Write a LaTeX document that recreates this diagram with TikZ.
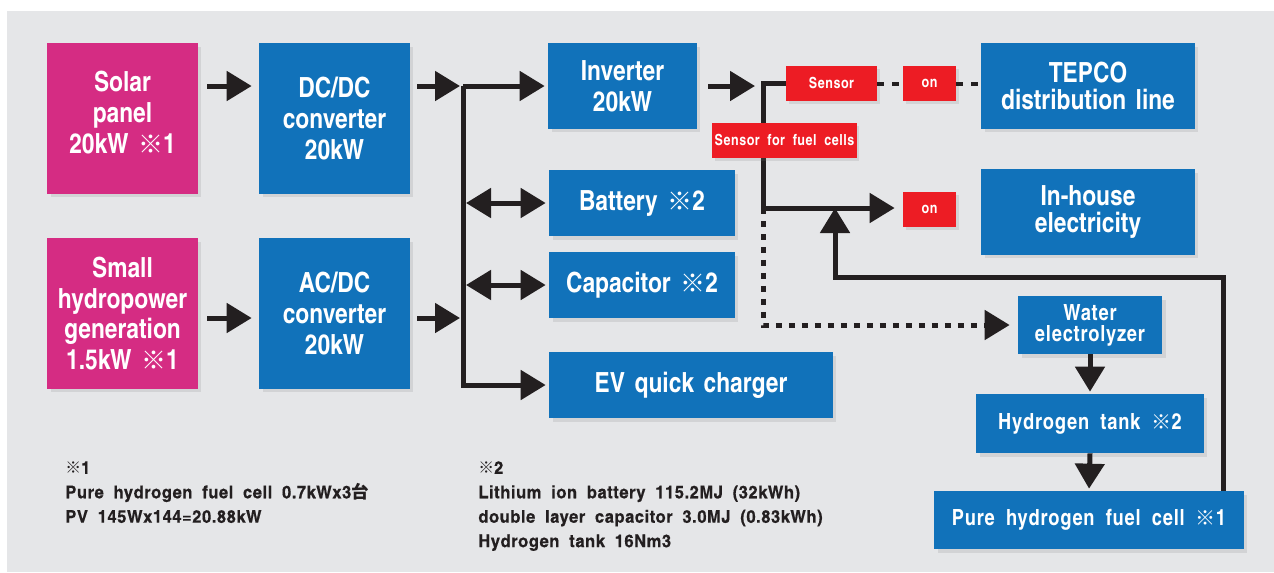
\documentclass[tikz,border=0pt]{standalone}
\usepackage{fontspec}
\setmainfont{texgyreheroscn-bold.otf}[WordSpace=1.5]
\newfontfamily\midfont{texgyreheroscn-bold.otf}[WordSpace=1.9, LetterSpace=3.5]
\newfontfamily\notefont{texgyreheroscn-bold.otf}[FakeStretch=1.15, FakeBold=0.4, WordSpace=1.9, LetterSpace=3]
\newfontfamily\cjk{Noto Sans CJK JP}
\usetikzlibrary{arrows.meta,shadows}

\definecolor{panelgray}{RGB}{229,230,232}
\definecolor{srcpink}{RGB}{213,44,131}
\definecolor{unitblue}{RGB}{17,114,186}
\definecolor{sensred}{RGB}{237,28,36}
\definecolor{wireblack}{RGB}{35,31,32}

\newcommand{\kome}{{\cjk\scalebox{0.9}{※}}}

\tikzset{
  unit/.style={fill=unitblue, text=white, align=center, inner sep=0pt,
    drop shadow={shadow xshift=0.07cm, shadow yshift=-0.07cm, opacity=0.18},
    font=\fontsize{15.8}{17.6}\selectfont},
  source/.style={unit, fill=srcpink},
  twoline/.style={unit, font=\fontsize{15.8}{15.4}\selectfont},
  smallunit/.style={unit, font=\midfont\fontsize{12.7}{12}\selectfont},
  sens/.style={fill=sensred, text=white, inner sep=0pt, minimum height=0.7cm,
    drop shadow={shadow xshift=0.05cm, shadow yshift=-0.05cm, opacity=0.18},
    font=\midfont\fontsize{8.7}{10}\selectfont},
  wire/.style={draw=wireblack, line width=0.1cm},
  flow/.style={wire, -{Triangle[length=0.5cm,width=0.58cm]}},
  twoway/.style={wire, {Triangle[length=0.5cm,width=0.58cm]}-{Triangle[length=0.5cm,width=0.58cm]}},
  dotwire/.style={flow, dash pattern=on 0.12cm off 0.14cm},
  dashwire/.style={wire, line width=0.08cm, dash pattern=on 0.14cm off 0.16cm},
  note/.style={text=wireblack, align=left, anchor=north west, inner sep=0pt,
    font=\notefont\fontsize{10}{13.9}\selectfont}
}

\begin{document}
\begin{tikzpicture}[x=0.02cm, y=-0.02cm]
\useasboundingbox (0,0) rectangle (1274,572);
\fill[panelgray] (7,11) rectangle (1274,572);

% sources and converters
\node[source, minimum width=3.02cm, minimum height=3.02cm, text depth=7pt] (solar) at (122.5,118.5) {Solar\\panel\\20kW \kome1};
\node[source, minimum width=3.02cm, minimum height=3.02cm] (hydro) at (122.5,313.5) {Small\\hydropower\\generation\\1.5kW \kome1};
\node[unit, minimum width=3.02cm, minimum height=3.02cm] (dcdc) at (334.5,118.5) {DC/DC\\converter\\20kW};
\node[unit, minimum width=3.02cm, minimum height=3.02cm] (acdc) at (334.5,313.5) {AC/DC\\converter\\20kW};

% loads on the bus
\node[unit, minimum width=2.98cm, minimum height=1.72cm] (inverter) at (622.5,86) {Inverter\\20kW};
\node[unit, minimum width=3.72cm, minimum height=1.32cm] (battery) at (642,203) {Battery \kome2};
\node[unit, minimum width=3.72cm, minimum height=1.32cm] (capacitor) at (642,285) {Capacitor \kome2};
\node[unit, minimum width=5.68cm, minimum height=1.32cm] (ev) at (691,385) {EV quick charger};

% grid side
\node[sens, minimum width=1.82cm] (sensor) at (831.5,83.5) {Sensor};
\node[sens, minimum width=1.06cm] (on1) at (929.5,83.5) {on};
\node[sens, minimum width=1.06cm] (on2) at (929.5,209.5) {on};
\node[twoline, minimum width=4.28cm, minimum height=1.72cm] (tepco) at (1088,86) {TEPCO\\distribution line};
\node[twoline, minimum width=4.28cm, minimum height=1.72cm] (inhouse) at (1088,212) {In-house\\electricity};

% hydrogen chain
\node[smallunit, minimum width=2.88cm, minimum height=1.16cm] (electrolyzer) at (1090,325) {Water\\electrolyzer};
\node[smallunit, minimum width=4.56cm, minimum height=1.18cm] (tank) at (1090,423.5) {Hydrogen tank \kome2};
\node[smallunit, minimum width=6.2cm, minimum height=1.16cm] (fuelcell) at (1089,520) {Pure hydrogen fuel cell \kome1};

\coordinate (bustop) at (463,86);
\coordinate (busmid) at (463,318);
\coordinate (tap) at (763,84);
\coordinate (tapmid) at (763,208);
\coordinate (retcorner) at (1223,277);
\coordinate (merge) at (835,208);

% bus
\draw[flow, shorten <=0.18cm, shorten >=0.14cm] (solar.east |- bustop) -- (dcdc.west |- bustop);
\draw[flow, shorten <=0.18cm, shorten >=0.14cm] (hydro.east |- busmid) -- (acdc.west |- busmid);
\draw[flow, shorten <=0.14cm, shorten >=0.06cm] (dcdc.east |- bustop) -- (bustop);
\draw[flow, shorten <=0.14cm, shorten >=0.06cm] (acdc.east |- busmid) -- (busmid);
\draw[flow, shorten >=0.06cm] (bustop) -- (inverter.west);
\draw[flow, shorten >=0.06cm] (bustop) |- (ev.west);
\draw[twoway, shorten <=0.06cm, shorten >=0.06cm] (bustop |- battery.west) -- (battery.west);
\draw[twoway, shorten <=0.06cm, shorten >=0.06cm] (bustop |- capacitor.west) -- (capacitor.west);

% sensors and switching
\draw[flow, shorten <=0.22cm, shorten >=0.16cm] (inverter.east) -- (inverter.east -| tap);
\draw[wire] (sensor.west) -| (tapmid);
\draw[flow, shorten >=0.16cm] (tapmid) -- (tapmid -| on2.west);
\draw[dotwire, shorten >=0.16cm] (tapmid) |- (electrolyzer.west);
\draw[dashwire] (sensor.east) -- (on1.west);
\draw[dashwire] (on1.east) -- (on1.east -| tepco.west);
\node[sens, minimum width=2.9cm] (fcsensor) at (784.5,140.5) {Sensor for fuel cells};

% hydrogen loop
\draw[flow, shorten >=0.04cm] (electrolyzer.south) -- (tank.north);
\draw[flow, shorten >=0.04cm] (tank.south) -- (fuelcell.north);
\draw[flow] (fuelcell.north -| retcorner) -- (retcorner) -| (merge);

% footnotes
\node[note] (note1) at (65,461) {\kome1\\Pure hydrogen fuel cell 0.7kWx3{\cjk\bfseries 台}\\PV 145Wx144=20.88kW};
\node[note] (note2) at (478,461) {\kome2\\Lithium ion battery 115.2MJ (32kWh)\\double layer capacitor 3.0MJ (0.83kWh)\\Hydrogen tank 16Nm3};
\end{tikzpicture}
\end{document}
